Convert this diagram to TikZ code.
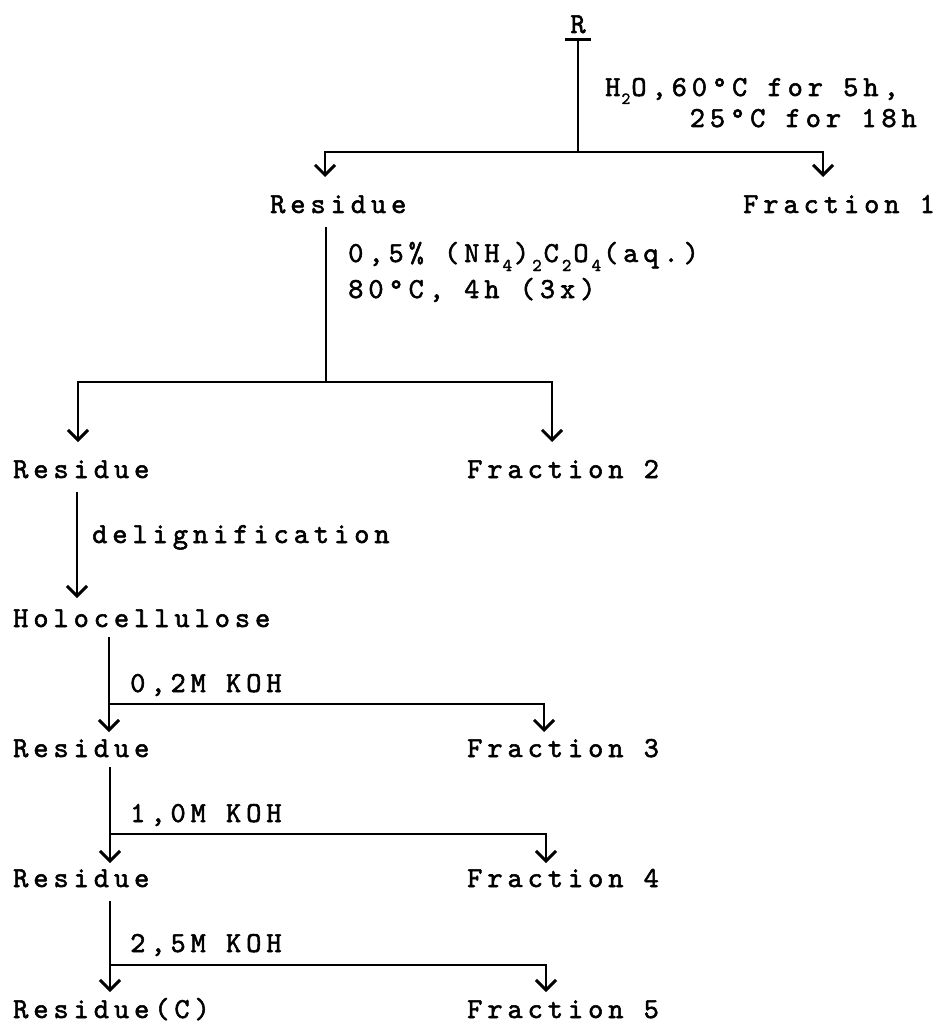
\documentclass[tikz,border=0pt]{standalone}
\usepackage{fontspec}
\newfontfamily\tw{lmmono10-regular.otf}[LetterSpace=17,FakeBold=1.8]
\usetikzlibrary{arrows.meta}
\newcommand\twf{\tw\fontsize{29}{33}\selectfont}
\newcommand\dnA[1]{\hspace{1pt}\raisebox{-8pt}{\fontsize{17}{17}\selectfont#1}\hspace{1pt}}
\newcommand\dnB[1]{\hspace{3pt}\raisebox{-9pt}{\fontsize{18}{18}\selectfont#1}\hspace{2pt}}
\begin{document}
\begin{tikzpicture}[x=1pt,y=-1pt,
  txt/.style={inner sep=0pt,anchor=base west,font=\twf},
  ln/.style={line width=2.5pt},
  arr/.style={ln,-{Straight Barb[length=10pt,width=20pt,line width=3pt]}}]
\useasboundingbox[fill=white] (0,0) rectangle (935,1024);
% top
\node[txt,anchor=base,inner xsep=5pt,inner ysep=6pt] (R) at (578,33) {R};
\draw[line width=2.8pt] (R.south west) -- (R.south east);
\coordinate (j1) at (578,152);
\coordinate (a1L) at (325,177);
\coordinate (a1R) at (823,177);
\draw[ln] (R.south) -- (j1);
\draw[arr] (j1) -| (a1L);
\draw[arr] (j1) -| (a1R);
\node[txt] (c1a) at (605,96) {H\dnA{2}O,60°C for 5h,};
\node[txt,anchor=base east] (c1b) at (917,127) {25°C for 18h};
\node[txt] (res1) at (270,213) {Residue};
\node[txt] (fr1) at (743,213) {Fraction 1};
% second branch
\coordinate (j2) at (326,382);
\coordinate (a2L) at (78,442);
\coordinate (a2R) at (552,442);
\draw[ln,shorten <=14pt] (res1.base -| j2) -- (j2);
\draw[arr] (j2) -| (a2L);
\draw[arr] (j2) -| (a2R);
\node[txt] (c2a) at (348,262) {0,5\% (NH\dnB{4})\dnB{2}C\dnB{2}O\dnB{4}(aq.)};
\node[txt] (c2b) at (348,298) {80°C, 4h (3x)};
\node[txt] (res2) at (13,478) {Residue};
\node[txt] (fr2) at (467,478) {Fraction 2};
% delignification
\coordinate (a3) at (77,598);
\draw[arr,shorten <=14pt] (res2.base -| a3) -- (a3);
\node[txt] (c3) at (92,543) {delignification};
\node[txt] (holo) at (13,627) {Holocellulose};
% KOH 1
\coordinate (a4L) at (109,732);
\coordinate (j4) at (109,704);
\coordinate (a4R) at (544,732);
\draw[arr,shorten <=10pt] (holo.base -| a4L) -- (a4L);
\draw[arr] (j4) -| (a4R);
\node[txt] (c4) at (130,692) {0,2M KOH};
\node[txt] (res3) at (13,757) {Residue};
\node[txt] (fr3) at (467,757) {Fraction 3};
% KOH 2
\coordinate (a5L) at (110,863);
\coordinate (j5) at (110,834);
\coordinate (a5R) at (546,863);
\draw[arr,shorten <=10pt] (res3.base -| a5L) -- (a5L);
\draw[arr] (j5) -| (a5R);
\node[txt] (c5) at (130,822) {1,0M KOH};
\node[txt] (res4) at (13,887) {Residue};
\node[txt] (fr4) at (467,887) {Fraction 4};
% KOH 3
\coordinate (a6L) at (110,992);
\coordinate (j6) at (110,965);
\coordinate (a6R) at (546,992);
\draw[arr,shorten <=14pt] (res4.base -| a6L) -- (a6L);
\draw[arr] (j6) -| (a6R);
\node[txt] (c6) at (130,952) {2,5M KOH};
\node[txt] (res5) at (13,1018) {Residue(C)};
\node[txt] (fr5) at (467,1018) {Fraction 5};
\end{tikzpicture}
\end{document}
